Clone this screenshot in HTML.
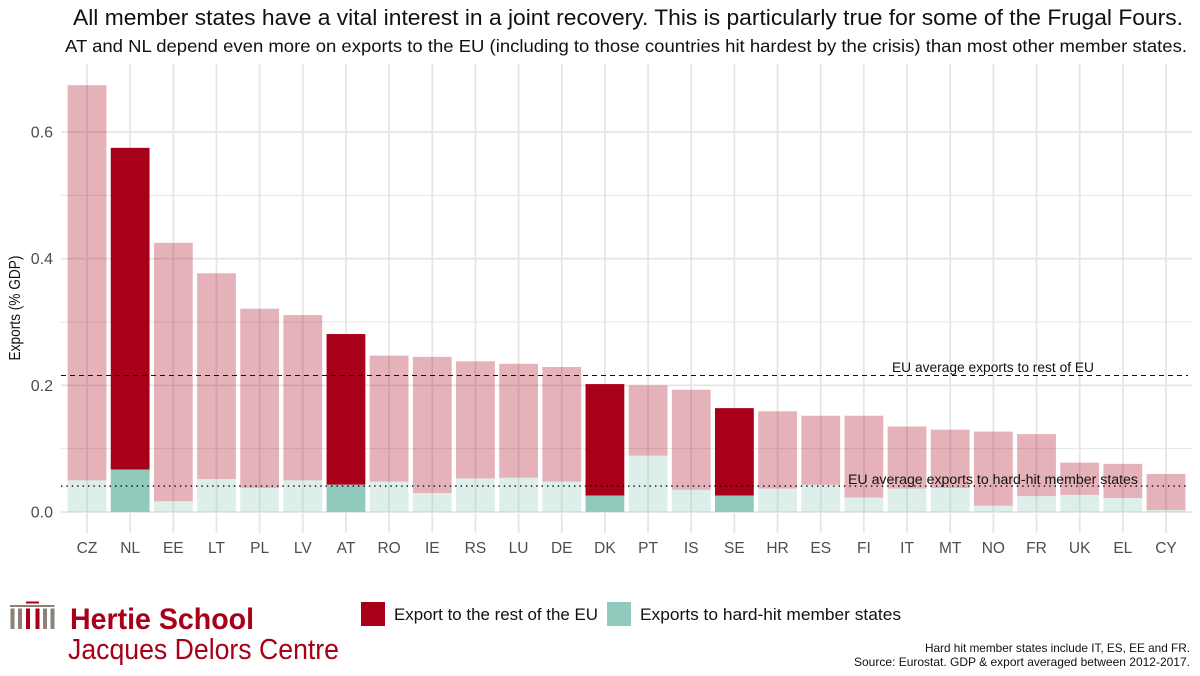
<!DOCTYPE html>
<html lang="en">
<head>
<meta charset="utf-8">
<title>Exports chart</title>
<style>
html,body{margin:0;padding:0;background:#fff;width:1200px;height:676px;overflow:hidden}
svg{display:block;font-family:"Liberation Sans",sans-serif}
</style>
</head>
<body>
<svg id="chart" width="1200" height="676" viewBox="0 0 1200 676" xmlns="http://www.w3.org/2000/svg">
  <text x="73" y="25" font-size="22" fill="#111" textLength="1110" lengthAdjust="spacingAndGlyphs">All member states have a vital interest in a joint recovery. This is particularly true for some of the Frugal Fours.</text>
  <text x="65" y="52" font-size="17.5" fill="#111" textLength="1122" lengthAdjust="spacingAndGlyphs">AT and NL depend even more on exports to the EU (including to those countries hit hardest by the crisis) than most other member states.</text>
  <g id="grid"></g>
  <g id="bars"></g>
  <g id="refs"></g>
  <g id="yaxis"></g>
  <g id="xaxis"></g>
  <text transform="translate(20,308) rotate(-90)" text-anchor="middle" font-size="15.5" fill="#111" textLength="105" lengthAdjust="spacingAndGlyphs">Exports (% GDP)</text>
  <text x="892" y="372" font-size="13.5" fill="#111" textLength="202" lengthAdjust="spacingAndGlyphs">EU average exports to rest of EU</text>
  <text x="848" y="484" font-size="13.5" fill="#111" textLength="290" lengthAdjust="spacingAndGlyphs">EU average exports to hard-hit member states</text>

  <g>
    <g>
      <rect x="26" y="601.5" width="13" height="2" fill="#a90019"/>
      <rect x="10" y="605" width="44.500" height="2" fill="#8a8178"/>
      <rect x="10.500" y="608.500" width="4" height="20.500" fill="#8a8178"/>
      <rect x="18" y="608.500" width="4" height="20.500" fill="#8a8178"/>
      <rect x="26" y="608.500" width="4" height="20.500" fill="#a90019"/>
      <rect x="35.500" y="608.500" width="4" height="20.500" fill="#a90019"/>
      <rect x="43" y="608.500" width="4" height="20.500" fill="#8a8178"/>
      <rect x="50.500" y="608.500" width="4" height="20.500" fill="#8a8178"/>
    </g>
    <text x="70" y="629" font-size="30" font-weight="700" fill="#a90019" textLength="184" lengthAdjust="spacingAndGlyphs">Hertie School</text>
    <text x="68" y="659" font-size="29" fill="#a90019" textLength="271" lengthAdjust="spacingAndGlyphs">Jacques Delors Centre</text>
  </g>

  <g>
    <rect x="361" y="602" width="24" height="24" fill="#a90019"/>
    <text x="394" y="620" font-size="16.5" fill="#111" textLength="204" lengthAdjust="spacingAndGlyphs">Export to the rest of the EU</text>
    <rect x="607" y="602" width="24" height="24" fill="#92c9bd"/>
    <text x="640" y="620" font-size="16.5" fill="#111" textLength="261" lengthAdjust="spacingAndGlyphs">Exports to hard-hit member states</text>
  </g>

  <text x="1190" y="652" text-anchor="end" font-size="12" fill="#111" textLength="265" lengthAdjust="spacingAndGlyphs">Hard hit member states include IT, ES, EE and FR.</text>
  <text x="1190" y="666" text-anchor="end" font-size="12" fill="#111" textLength="336" lengthAdjust="spacingAndGlyphs">Source: Eurostat. GDP &amp; export averaged between 2012-2017.</text>
</svg>
<script>
const categories = ["CZ","NL","EE","LT","PL","LV","AT","RO","IE","RS","LU","DE","DK","PT","IS","SE","HR","ES","FI","IT","MT","NO","FR","UK","EL","CY"];
const totalExports = [0.674,0.575,0.425,0.377,0.321,0.311,0.281,0.247,0.245,0.238,0.234,0.229,0.202,0.200,0.193,0.164,0.159,0.152,0.152,0.135,0.130,0.127,0.123,0.078,0.076,0.060];
const hardHitExports = [0.050,0.067,0.017,0.052,0.038,0.050,0.043,0.048,0.030,0.053,0.054,0.048,0.026,0.089,0.035,0.026,0.037,0.043,0.023,0.037,0.038,0.010,0.025,0.027,0.022,0.003];
const highlighted = ["NL","AT","DK","SE"];
const yMajorTicks = [0,0.2,0.4,0.6];
const yMinorTicks = [0.1,0.3,0.5];
const yTickLabels = ["0.0","0.2","0.4","0.6"];
const averageRest = 0.2155;
const averageHardHit = 0.041;

const SVG_NS = "http://www.w3.org/2000/svg";
const panelLeft = 61, panelRight = 1192, panelTop = 64, tickBottom = 533;
const xStart = 87, xStep = 43.16, barWidth = 38.8;
function xScale(i){ return xStart + i * xStep; }
function yScale(v){ return 512 - v * 633.3; }
function make(tag, attrs, parent){
  const el = document.createElementNS(SVG_NS, tag);
  for (const k in attrs) el.setAttribute(k, attrs[k]);
  parent.appendChild(el);
  return el;
}
const grid = document.getElementById("grid");
const bars = document.getElementById("bars");
const refs = document.getElementById("refs");
const yaxis = document.getElementById("yaxis");
const xaxis = document.getElementById("xaxis");

yMinorTicks.forEach(function(v){
  const el = make("line",{x1:panelLeft,x2:panelRight,y1:yScale(v),y2:yScale(v),stroke:"#e6e6e6","stroke-width":1},grid);
  
  
});
yMajorTicks.forEach(function(v,i){
  const el = make("line",{x1:panelLeft,x2:panelRight,y1:yScale(v),y2:yScale(v),stroke:"#e6e6e6","stroke-width":1.8},grid);
  
  
  const t = make("text",{x:53,y:yScale(v)+5.5,"text-anchor":"end","font-size":16,fill:"#4d4d4d"},yaxis);
  t.textContent = yTickLabels[i];
  
  
});
categories.forEach(function(c,i){
  const x = xScale(i);
  const gl = make("line",{x1:x,x2:x,y1:panelTop,y2:tickBottom,stroke:"#e6e6e6","stroke-width":1.8},grid);
  
  

  const isHi = highlighted.indexOf(c) >= 0;
  const op = isHi ? 1 : 0.3;
  const yTotal = yScale(totalExports[i]);
  const yHard = yScale(hardHitExports[i]);
  const yZero = yScale(0);
  const rest = make("rect",{x:x-barWidth/2,y:yTotal,width:barWidth,height:yHard-yTotal,fill:"#a90019","fill-opacity":op},bars);
  
  
  const hard = make("rect",{x:x-barWidth/2,y:yHard,width:barWidth,height:yZero-yHard,fill:"#92c9bd","fill-opacity":op},bars);
  
  

  const t = make("text",{x:x,y:553,"text-anchor":"middle","font-size":15.5,fill:"#4d4d4d"},xaxis);
  t.textContent = c;
  
  
});
const dash = make("line",{x1:panelLeft,x2:panelRight-4,y1:yScale(averageRest),y2:yScale(averageRest),stroke:"#111","stroke-width":1,"stroke-dasharray":"5 4"},refs);


const dots = make("line",{x1:panelLeft,x2:panelRight-4,y1:yScale(averageHardHit),y2:yScale(averageHardHit),stroke:"#000","stroke-width":1.4,"stroke-dasharray":"1.4 4"},refs);


</script>
</body>
</html>
